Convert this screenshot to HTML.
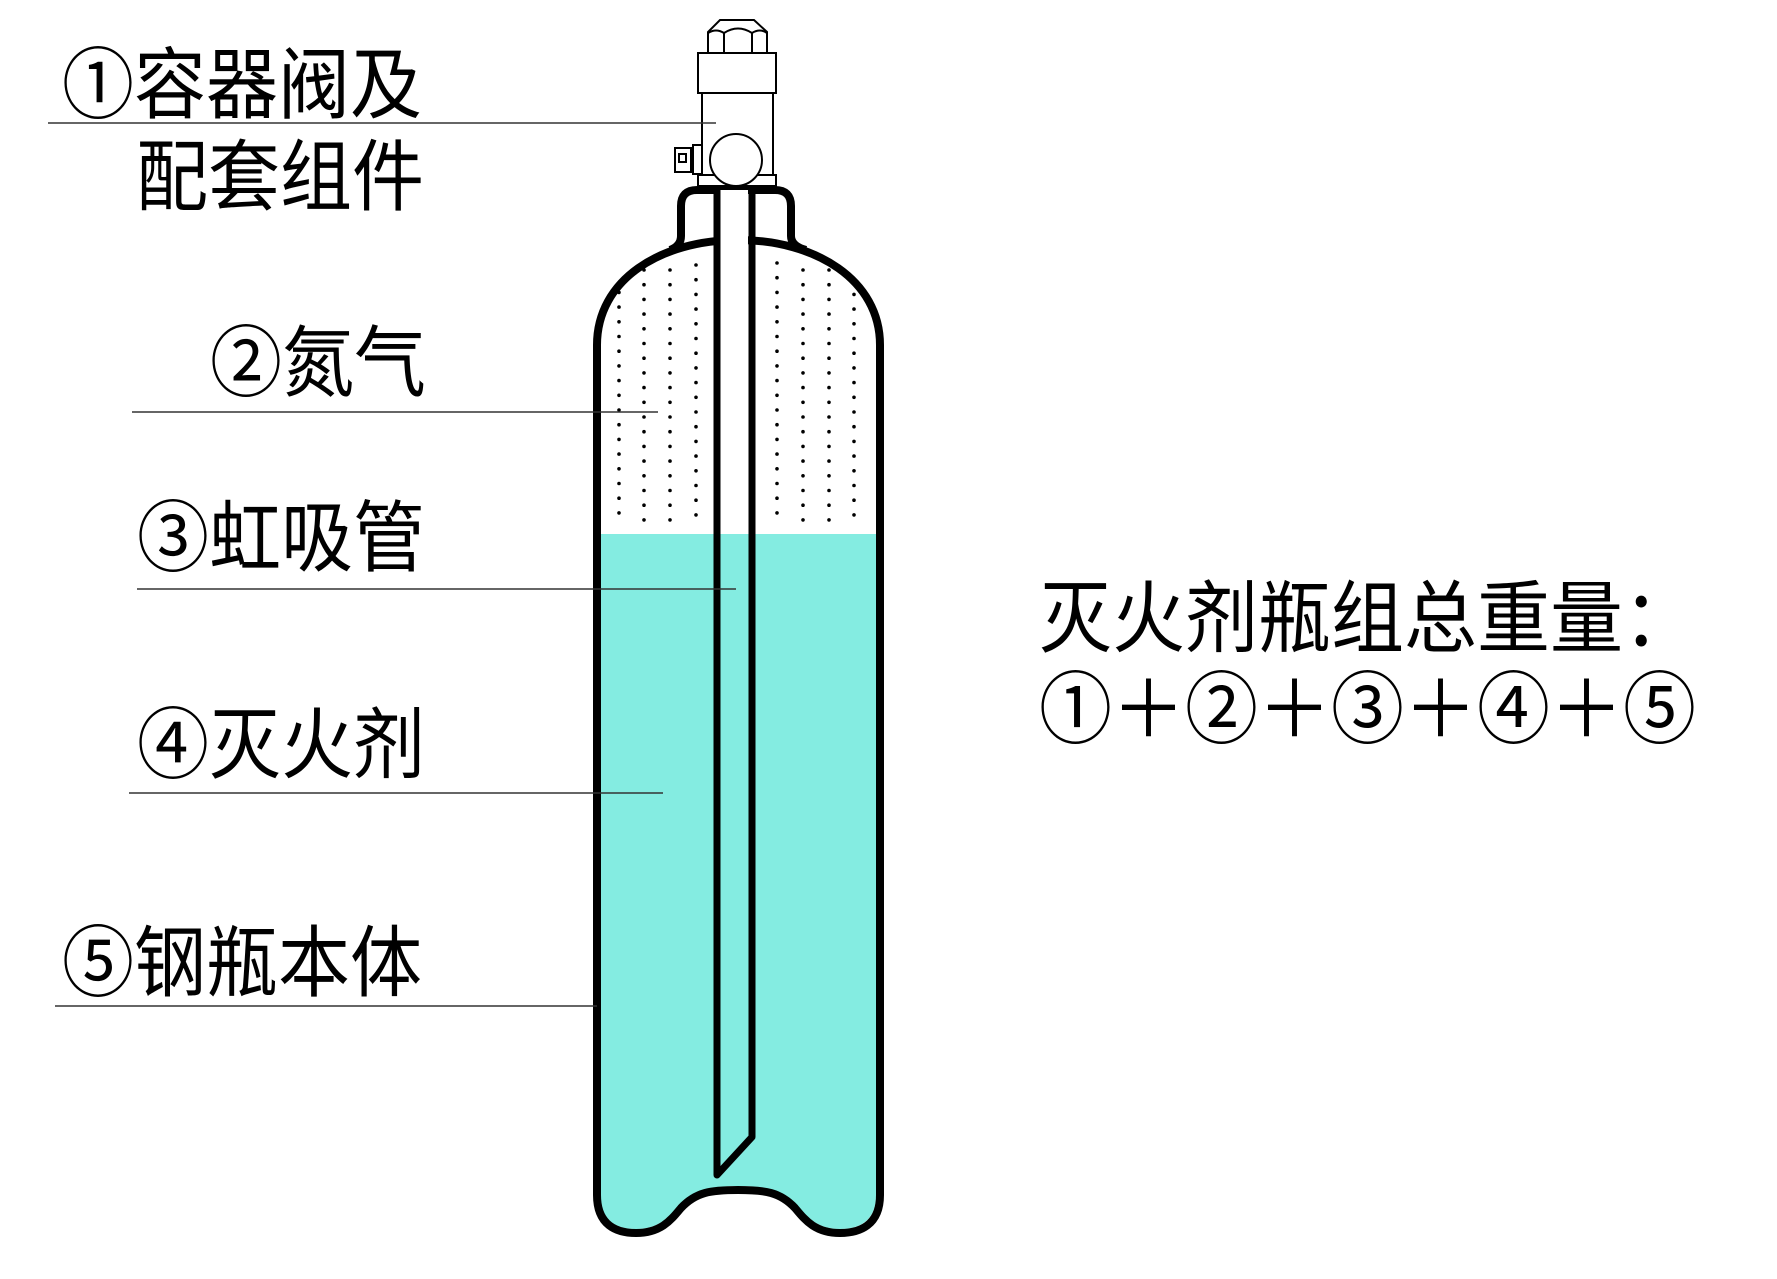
<!DOCTYPE html>
<html><head><meta charset="utf-8"><style>
html,body{margin:0;padding:0;background:#fff;}
body{width:1777px;height:1279px;position:relative;overflow:hidden;}
.t{position:absolute;font-family:"Liberation Sans","Noto Sans CJK SC",sans-serif;font-size:72px;line-height:1;color:#000;white-space:nowrap;transform:scaleY(1.08);transform-origin:0 0;}
svg{position:absolute;left:0;top:0;}
</style></head><body>
<svg width="1777" height="1279" viewBox="0 0 1777 1279">
<defs>
<clipPath id="inner">
<path d="M600,345 C600,282 662,244 738,244 C814,244 876,282 876,345 L876,1195 C876,1222 858,1229 840,1229 C818,1229 808,1218 798,1206 C782,1190 766,1186 738,1186 C710,1186 694,1190 678,1206 C668,1218 658,1229 636,1229 C618,1229 600,1222 600,1195 Z"/>
</clipPath>
</defs>
<g clip-path="url(#inner)">
<rect x="580" y="534" width="320" height="720" fill="#84ece1"/>
<g fill="#000" id="dots"></g>
</g>
<path d="M597,345 C597,280 660,240 738,240 C816,240 880,280 880,345 L880,1195 C880,1225 860,1233 840,1233 C815,1233 805,1220 795,1208 C780,1192 765,1190 738,1190 C711,1190 696,1192 681,1208 C671,1220 661,1233 636,1233 C616,1233 597,1225 597,1195 Z" fill="none" stroke="#000" stroke-width="8"/>
<path d="M670,250 Q681,246 681,236 L681,206 Q681,190 697,190 L775,190 Q791,190 791,206 L791,236 Q791,246 806,250" fill="none" stroke="#000" stroke-width="8"/>
<rect x="720" y="190" width="28" height="60" fill="#fff"/>
<path d="M717,190 L717,1175 L752,1137 L752,190" fill="none" stroke="#000" stroke-width="7" stroke-linejoin="round"/>
<g fill="#fff" stroke="#000" stroke-width="2">
<path d="M708,53 L708,32 L720,20 L754,20 L767,32 L767,53"/>
<line x1="724" y1="33" x2="724" y2="53"/><line x1="752" y1="33" x2="752" y2="53"/>
<path d="M708,33 Q716,28 724,33 Q738,24 752,33 Q760,28 767,33" fill="none"/>
<rect x="698" y="53" width="78" height="40"/>
<rect x="702" y="93" width="71" height="83"/>
<rect x="698" y="175" width="78" height="11"/>
<circle cx="736" cy="160" r="26"/>
<rect x="693" y="145" width="9" height="29"/>
<rect x="675" y="148" width="16" height="24"/>
<rect x="679" y="154" width="7" height="8"/>
</g>
<g stroke="#333" stroke-width="1.5">
<line x1="48" y1="123" x2="716" y2="123"/>
<line x1="132" y1="412" x2="658" y2="412"/>
<line x1="137" y1="589" x2="736" y2="589"/>
<line x1="129" y1="793" x2="663" y2="793"/>
<line x1="55" y1="1006" x2="597" y2="1006"/>
</g>
</svg>
<div class="t" style="left:62px;top:47px;">①容器阀及</div>
<div class="t" style="left:136px;top:139px;">配套组件</div>
<div class="t" style="left:210px;top:325px;">②氮气</div>
<div class="t" style="left:137px;top:500px;">③虹吸管</div>
<div class="t" style="left:137px;top:707px;">④灭火剂</div>
<div class="t" style="left:62px;top:925px;">⑤钢瓶本体</div>
<div class="t" style="left:1039px;top:580px;font-size:73px;">灭火剂瓶组总重量：</div>
<div class="t" style="left:1039px;top:671px;font-size:73px;">①＋②＋③＋④＋⑤</div>
<script>
(function(){
var g=document.getElementById('dots');var ns='http://www.w3.org/2000/svg';
var cols=[[619,0],[644,7],[670,7],[696,2],[777,0],[803,7],[829,7],[854,2]];
cols.forEach(function(c){
for(var y=263+c[1];y<=524;y+=14.7){
var e=document.createElementNS(ns,'circle');e.setAttribute('cx',c[0]);e.setAttribute('cy',y.toFixed(1));e.setAttribute('r','1.8');g.appendChild(e);}
});
})();
</script>
</body></html>
